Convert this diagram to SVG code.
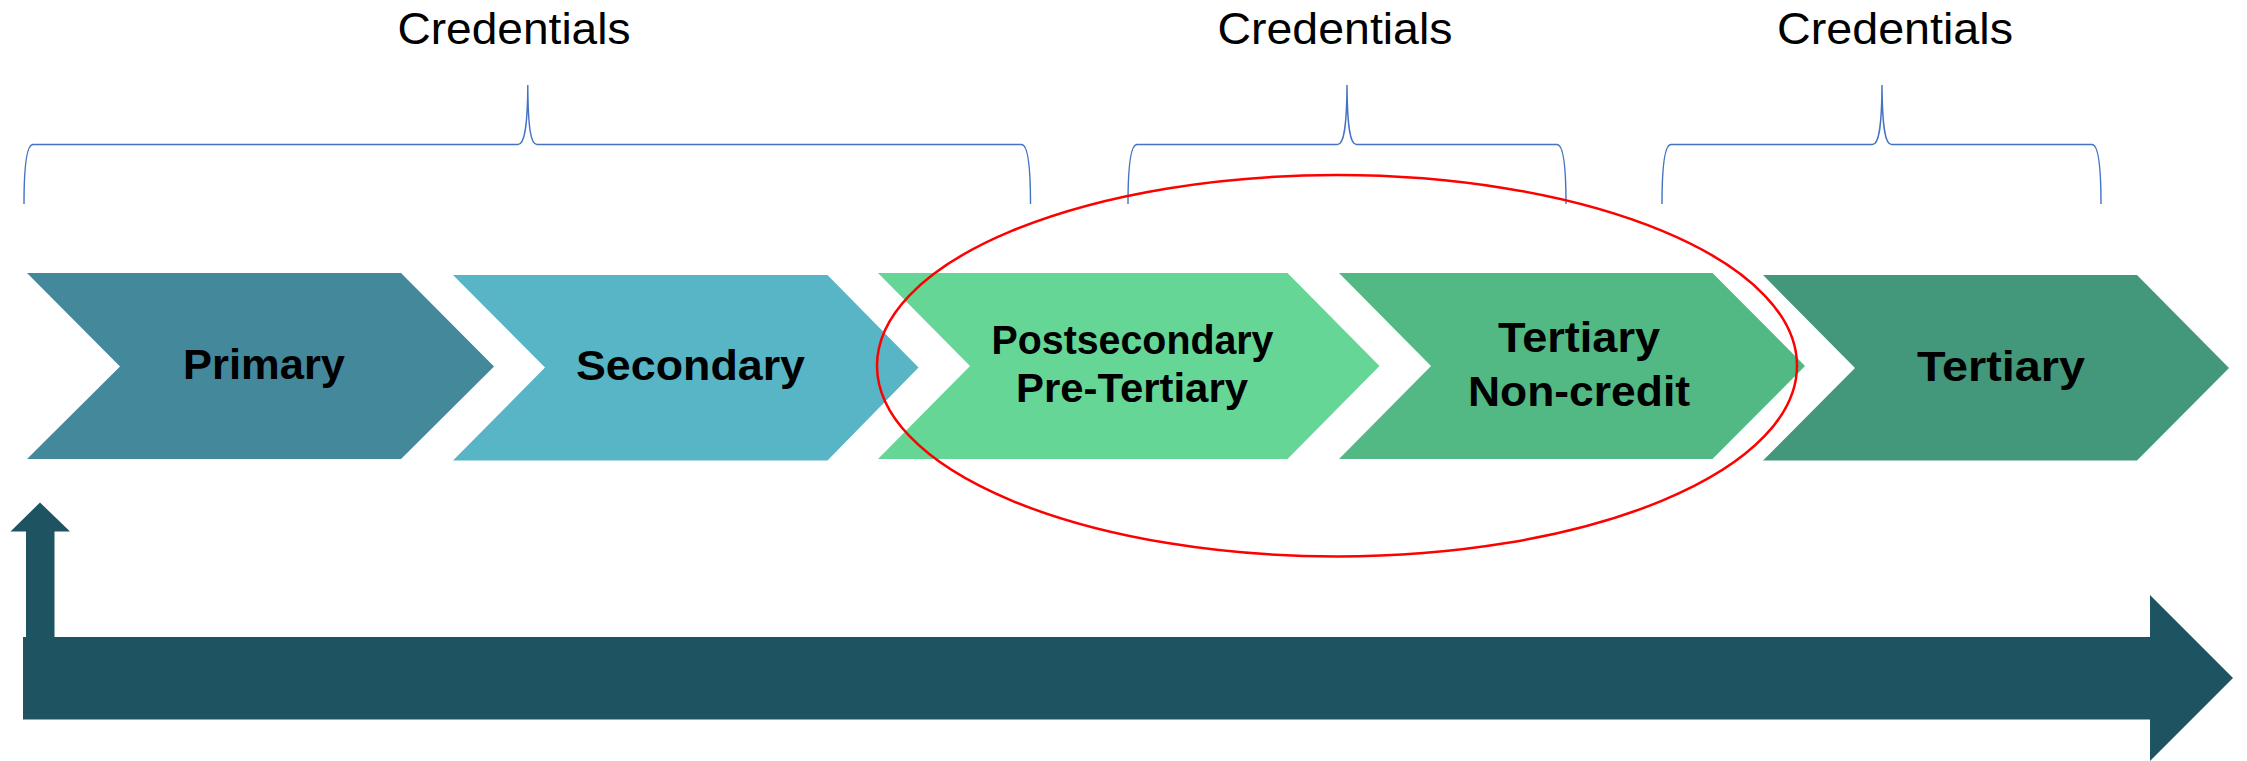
<svg xmlns="http://www.w3.org/2000/svg" width="2247" height="761" viewBox="0 0 2247 761">
<style>
.brace{fill:none;stroke:#4472c4;stroke-width:1.4}
.cred{font-family:"Liberation Sans",Arial,sans-serif;font-size:44px;fill:#000;text-anchor:middle}
.lbl{font-family:"Liberation Sans",Arial,sans-serif;font-weight:bold;fill:#000;text-anchor:middle}
.dark{fill:#1e5461}
</style>
<rect width="2247" height="761" fill="#fff"/>
<g id="credentials-1">
<path class="brace" d="M24,204 C24,165 27,144.5 33,144.5 L518,144.5 C524,144.5 527.5,130 527.8,85 C528.1,130 531,144.5 537,144.5 L1021.5,144.5 C1027.5,144.5 1030.5,165 1030.5,204"/>
<text class="cred" x="514" y="44.3" textLength="233" lengthAdjust="spacingAndGlyphs">Credentials</text>
</g>
<g id="credentials-2">
<path class="brace" d="M1128,204 C1128,165 1131,144.5 1137,144.5 L1337.5,144.5 C1343.5,144.5 1346.7,130 1347,85 C1347.3,130 1350.5,144.5 1356.5,144.5 L1557,144.5 C1563,144.5 1566,165 1566,204"/>
<text class="cred" x="1335" y="44.3" textLength="235" lengthAdjust="spacingAndGlyphs">Credentials</text>
</g>
<g id="credentials-3">
<path class="brace" d="M1662,204 C1662,165 1665,144.5 1671,144.5 L1872.5,144.5 C1878.5,144.5 1881.7,130 1882,85 C1882.3,130 1885.5,144.5 1891.5,144.5 L2092,144.5 C2098,144.5 2101,165 2101,204"/>
<text class="cred" x="1895" y="44.3" textLength="236" lengthAdjust="spacingAndGlyphs">Credentials</text>
</g>
<g id="primary">
<polygon points="27,273 401,273 494,366.5 401,459 27,459 120,366.5" fill="#44889c"/>
<text class="lbl" x="264" y="379.3" font-size="42" textLength="162" lengthAdjust="spacingAndGlyphs">Primary</text>
</g>
<g id="secondary">
<polygon points="453,275 827.5,275 918.5,367.5 827.5,460.5 453,460.5 545,367.5" fill="#58b5c6"/>
<text class="lbl" x="690.5" y="380" font-size="42" textLength="229" lengthAdjust="spacingAndGlyphs">Secondary</text>
</g>
<g id="postsecondary">
<polygon points="878,273 1287.5,273 1379.5,366 1287.5,459 878,459 970,366" fill="#66d696"/>
<text class="lbl" x="1132.5" y="354" font-size="40" textLength="282" lengthAdjust="spacingAndGlyphs">Postsecondary</text>
<text class="lbl" x="1132" y="401.7" font-size="40" textLength="232" lengthAdjust="spacingAndGlyphs">Pre-Tertiary</text>
</g>
<g id="tertiary-noncredit">
<polygon points="1339,273 1712.5,273 1805,366 1712.5,459 1339,459 1431,366" fill="#52b985"/>
<text class="lbl" x="1579" y="351.7" font-size="42" textLength="162" lengthAdjust="spacingAndGlyphs">Tertiary</text>
<text class="lbl" x="1579" y="406" font-size="43" textLength="222" lengthAdjust="spacingAndGlyphs">Non-credit</text>
</g>
<g id="tertiary">
<polygon points="1763,275 2137,275 2229,368 2137,460.5 1763,460.5 1855,368" fill="#43977a"/>
<text class="lbl" x="2001" y="381" font-size="42" textLength="168" lengthAdjust="spacingAndGlyphs">Tertiary</text>
</g>
<g id="highlight">
<ellipse cx="1337" cy="365.75" rx="460" ry="190.75" fill="none" stroke="#ff0000" stroke-width="2.5"/>
</g>
<g id="connectors">
<polygon class="dark" points="26,640 26,531.5 10.5,531.5 40,502.5 70,531.5 54.5,531.5 54.5,640"/>
<polygon class="dark" points="23,637 2150,637 2150,595 2233,678 2150,761 2150,719.5 23,719.5"/>
</g>
</svg>
